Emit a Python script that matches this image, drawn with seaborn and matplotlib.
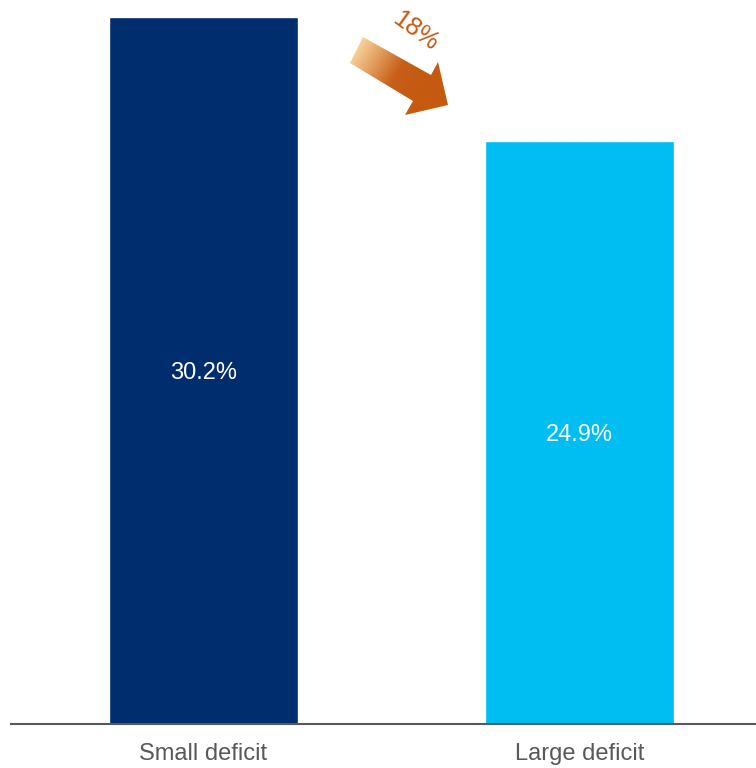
import matplotlib
matplotlib.use("Agg")
import matplotlib.pyplot as plt
import numpy as np
import pandas as pd
import seaborn as sns
from matplotlib.patches import Polygon
from matplotlib.colors import LinearSegmentedColormap

categories = ["Small deficit", "Large deficit"]
values = [30.2, 24.9]
bar_colors = ["#002D6E", "#00BEF2"]
change_label = "18%"

sns.set_theme(style="white")
plt.rcParams["font.family"] = ["Liberation Sans", "DejaVu Sans"]

W, H = 756, 768
fig = plt.figure(figsize=(W / 100, H / 100), dpi=100)
ax = fig.add_axes([11 / W, 44 / H, 745 / W, 724 / H])

df = pd.DataFrame({"group": categories, "share": values})
sns.barplot(data=df, x="group", y="share", hue="group", palette=bar_colors,
            width=0.503, legend=False, ax=ax, saturation=1)

ax.set_xlim(-0.512, 1.469)
ax.set_ylim(0, 30.93)
ax.set_xlabel("")
ax.set_ylabel("")
ax.set_yticks([])
for s in ["top", "right", "left"]:
    ax.spines[s].set_visible(False)
ax.spines["bottom"].set_color("#595959")
ax.spines["bottom"].set_linewidth(1.5)
ax.tick_params(axis="x", length=0, pad=14, labelsize=17, labelcolor="#595959")

for i, v in enumerate(values):
    ax.text(i, v / 2, f"{v:.1f}%", ha="center", va="center_baseline",
            color="white", fontsize=17)

# Gradient block arrow showing the drop between the two groups
ov = fig.add_axes([0, 0, 1, 1], facecolor="none")
ov.set_xlim(0, W)
ov.set_ylim(H, 0)
ov.axis("off")
arrow_pts = np.array([(350, 63), (363, 37), (431, 75), (438, 62),
                      (448, 105), (405, 115), (413, 101)])
poly = Polygon(arrow_pts, closed=True, facecolor="none", edgecolor="none")
ov.add_patch(poly)
cmap = LinearSegmentedColormap.from_list(
    "arrow", ["#F7D199", "#E09A5A", "#C8601A", "#C55A11"])
gx0, gx1, gy0, gy1 = 345, 452, 120, 30
# gradient along the arrow direction
xx, yy = np.meshgrid(np.linspace(gx0, gx1, 200), np.linspace(gy1, gy0, 200))
ang = np.deg2rad(31)
proj = (xx - 356) * np.cos(ang) + (yy - 50) * np.sin(ang)
proj = np.clip(proj / 70.0, 0, 1)
im = ov.imshow(proj, cmap=cmap, extent=[gx0, gx1, gy0, gy1], origin="upper",
               interpolation="bilinear", aspect="auto")
im.set_clip_path(poly)
ov.set_xlim(0, W)
ov.set_ylim(H, 0)
ov.text(415, 31, change_label, rotation=-36, ha="center", va="center",
        color="#C55A11", fontsize=18, rotation_mode="anchor")

fig.savefig("out.png", dpi=100)
